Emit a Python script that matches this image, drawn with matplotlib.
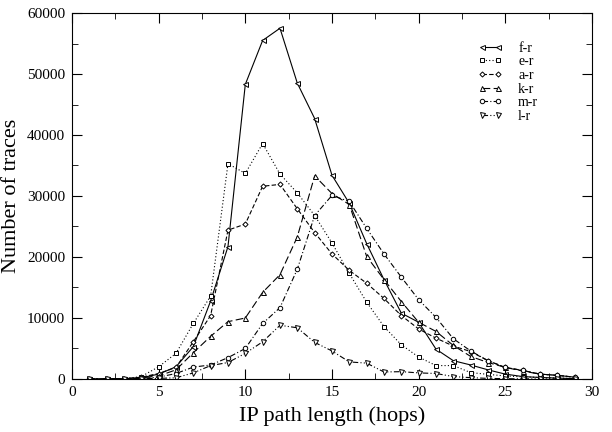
import numpy as np
import matplotlib
matplotlib.use('Agg')
import matplotlib.pyplot as plt
from matplotlib.ticker import MultipleLocator

plt.rcParams['font.family'] = ['Liberation Serif', 'DejaVu Serif']

HOPS = np.arange(1, 30)

F_R = [0, 0, 50, 200, 800, 2000, 5300, 12800, 21700, 48300, 55500, 57500, 48500, 42700,
       33400, 28800, 22200, 16300, 10800, 9300, 4900, 3000, 2300, 1500, 800, 400, 250, 150, 50]
E_R = [0, 0, 50, 400, 2000, 4200, 9100, 13600, 35300, 33700, 38600, 33600, 30500, 26800,
       22300, 17300, 12600, 8600, 5600, 3600, 2200, 2200, 1050, 760, 500, 350, 250, 150, 80]
A_R = [0, 0, 50, 300, 900, 1900, 6100, 10400, 24400, 25400, 31600, 31900, 27900, 24000,
       20500, 17800, 15700, 13200, 10400, 8200, 6700, 5400, 4500, 3000, 1900, 1400, 800, 600, 300]
K_R = [0, 0, 50, 200, 500, 1500, 4300, 7000, 9400, 10000, 14200, 17100, 23300, 33300,
       30400, 28600, 20100, 16300, 12700, 9300, 7800, 5500, 3700, 2700, 1900, 1300, 800, 600, 300]
M_R = [0, 0, 30, 100, 300, 900, 1950, 2300, 3500, 5000, 9100, 11700, 18000, 26800,
       30100, 29100, 24700, 20500, 16700, 13000, 10100, 6600, 4600, 3000, 1900, 1400, 800, 600, 300]
L_R = [0, 0, 0, 50, 100, 200, 1000, 2200, 2700, 4200, 6100, 8800, 8400, 6000,
       4600, 2800, 2600, 1150, 1200, 1000, 900, 400, 220, 100, 50, 30, 20, 10, 0]

SERIES = [
    ('f-r', F_R, '<', '-'),
    ('e-r', E_R, 's', (0, (1, 2))),
    ('a-r', A_R, 'D', (0, (4, 2))),
    ('k-r', K_R, '^', (0, (7, 3))),
    ('m-r', M_R, 'o', (0, (5, 2, 1, 2))),
    ('l-r', L_R, 'v', (0, (5, 2, 1, 2, 1, 2))),
]
MARKER_SIZE = {'<': 3.6, 's': 3.0, 'D': 2.6, '^': 3.6, 'o': 3.2, 'v': 3.6}

fig = plt.figure(figsize=(6.12, 4.32), dpi=100)
ax = fig.add_axes([0.1176, 0.1227, 0.8497, 0.8472])

for name, values, marker, style in SERIES:
    ax.plot(HOPS, values, color='black', linestyle=style, linewidth=0.8,
            marker=marker, markersize=MARKER_SIZE[marker], markerfacecolor='white',
            markeredgecolor='black', markeredgewidth=0.7, label=name)

ax.set_xlim(0, 30)
ax.set_ylim(0, 60000)
ax.xaxis.set_major_locator(MultipleLocator(5))
ax.xaxis.set_minor_locator(MultipleLocator(2.5))
ax.yaxis.set_major_locator(MultipleLocator(10000))
ax.yaxis.set_minor_locator(MultipleLocator(5000))
ax.tick_params(which='both', direction='in', top=True, right=True, labelsize=11)
ax.tick_params(which='major', length=7, pad=5)
ax.tick_params(which='minor', length=4)

ax.set_xlabel('IP path length (hops)', fontsize=16, labelpad=5)
ax.set_ylabel('Number of traces', fontsize=16, labelpad=4)

ax.legend(loc='upper left', bbox_to_anchor=(0.781, 0.922), frameon=False, fontsize=10,
          handlelength=1.73, numpoints=2, labelspacing=0.05, handletextpad=1.15,
          borderpad=0, borderaxespad=0)

fig.savefig('out.png', dpi=100)
